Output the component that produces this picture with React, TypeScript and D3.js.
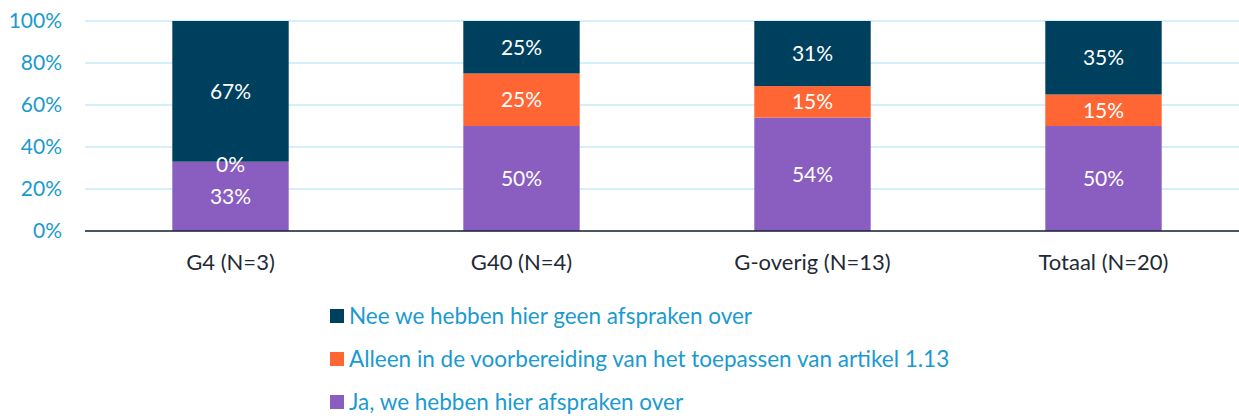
import React, { useRef, useEffect } from "react";
import * as d3 from "d3";

const categories = ["G4 (N=3)", "G40 (N=4)", "G-overig (N=13)", "Totaal (N=20)"];
const seriesNames = [
  "Ja, we hebben hier afspraken over",
  "Alleen in de voorbereiding van het toepassen van artikel 1.13",
  "Nee we hebben hier geen afspraken over",
];
const jaValues = [33, 50, 54, 50];
const alleenValues = [0, 25, 15, 15];
const neeValues = [67, 25, 31, 35];
const colors = ["#8a5ec0", "#ff6633", "#00405f"];
const yTicks = [0, 20, 40, 60, 80, 100];

const App = () => {
  const wrapper = useRef<SVGSVGElement | null>(null);

  const width = 1239;
  const height = 416;
  const margin = { top: 21, bottom: 185, left: 85 };
  const font = "Lato, sans-serif";

  useEffect(() => {
    const svg = d3.select(wrapper.current);
    svg.selectAll("*").remove();

    // plot runs a bit past the right edge, like the original
    const x = d3
      .scaleBand()
      .domain(categories)
      .range([margin.left, margin.left + 4 * 291])
      .paddingInner(0.6)
      .paddingOuter(0.3);

    const y = d3
      .scaleLinear()
      .domain([0, 100])
      .range([height - margin.bottom, margin.top]);

    // gridlines
    svg
      .append("g")
      .selectAll("line")
      .data(yTicks)
      .enter()
      .append("line")
      .attr("x1", margin.left)
      .attr("x2", width)
      .attr("y1", (d) => y(d))
      .attr("y2", (d) => y(d))
      .attr("stroke", "#c5eaf8")
      .attr("stroke-width", 1.3);

    // y tick labels
    svg
      .append("g")
      .selectAll("text")
      .data(yTicks)
      .enter()
      .append("text")
      .attr("x", 62)
      .attr("y", (d) => y(d))
      .attr("dy", "0.35em")
      .attr("text-anchor", "end")
      .attr("fill", "#1a9ad0")
      .style("font-family", font)
      .style("font-size", "21px")
      .text((d) => `${d}%`);

    const rows = categories.map((c, i) => ({
      cat: c,
      s0: jaValues[i],
      s1: alleenValues[i],
      s2: neeValues[i],
    }));
    const stacked = d3.stack<any>().keys(["s0", "s1", "s2"])(rows);

    svg
      .append("g")
      .selectAll("g")
      .data(stacked)
      .enter()
      .append("g")
      .attr("fill", (_, i) => colors[i])
      .selectAll("rect")
      .data((d) => d)
      .enter()
      .append("rect")
      .attr("x", (d: any) => x(d.data.cat)!)
      .attr("width", x.bandwidth())
      .attr("y", (d) => y(d[1]))
      .attr("height", (d) => y(d[0]) - y(d[1]));

    // value labels on top of all segments (so 0% stays visible)
    svg
      .append("g")
      .selectAll("g")
      .data(stacked)
      .enter()
      .append("g")
      .selectAll("text")
      .data((d) => d)
      .enter()
      .append("text")
      .attr("x", (d: any) => x(d.data.cat)! + x.bandwidth() / 2)
      .attr("y", (d) => (y(d[0]) + y(d[1])) / 2 + (d[1] === d[0] ? 3 : 0))
      .attr("dy", "0.35em")
      .attr("text-anchor", "middle")
      .attr("fill", "white")
      .style("font-family", font)
      .style("font-size", "21px")
      .text((d) => `${d[1] - d[0]}%`);

    // x axis line
    svg
      .append("line")
      .attr("x1", margin.left)
      .attr("x2", width)
      .attr("y1", y(0))
      .attr("y2", y(0))
      .attr("stroke", "#1b2530")
      .attr("stroke-width", 1.3);

    // category labels
    svg
      .append("g")
      .selectAll("text")
      .data(categories)
      .enter()
      .append("text")
      .attr("x", (d) => x(d)! + x.bandwidth() / 2)
      .attr("y", 262)
      .attr("dy", "0.35em")
      .attr("text-anchor", "middle")
      .attr("fill", "#1f2a36")
      .style("font-family", font)
      .style("font-size", "22px")
      .text((d) => d);

    // legend (top to bottom: Nee, Alleen, Ja)
    const legendOrder = [2, 1, 0];
    const legend = svg
      .append("g")
      .selectAll("g")
      .data(legendOrder)
      .enter()
      .append("g")
      .attr("transform", (_, i) => `translate(330, ${316 + i * 43})`);

    legend
      .append("rect")
      .attr("x", 0)
      .attr("y", -7)
      .attr("width", 14)
      .attr("height", 14)
      .attr("fill", (d) => colors[d]);

    legend
      .append("text")
      .attr("x", 19)
      .attr("y", 0)
      .attr("dy", "0.35em")
      .attr("fill", "#1a9ad0")
      .style("font-family", font)
      .style("font-size", "22.5px")
      .text((d) => seriesNames[d]);
  }, []);

  return (
    <svg
      ref={wrapper}
      width={width}
      height={height}
      style={{ position: "absolute", left: 0, top: 0 }}
    />
  );
};

export default App;
